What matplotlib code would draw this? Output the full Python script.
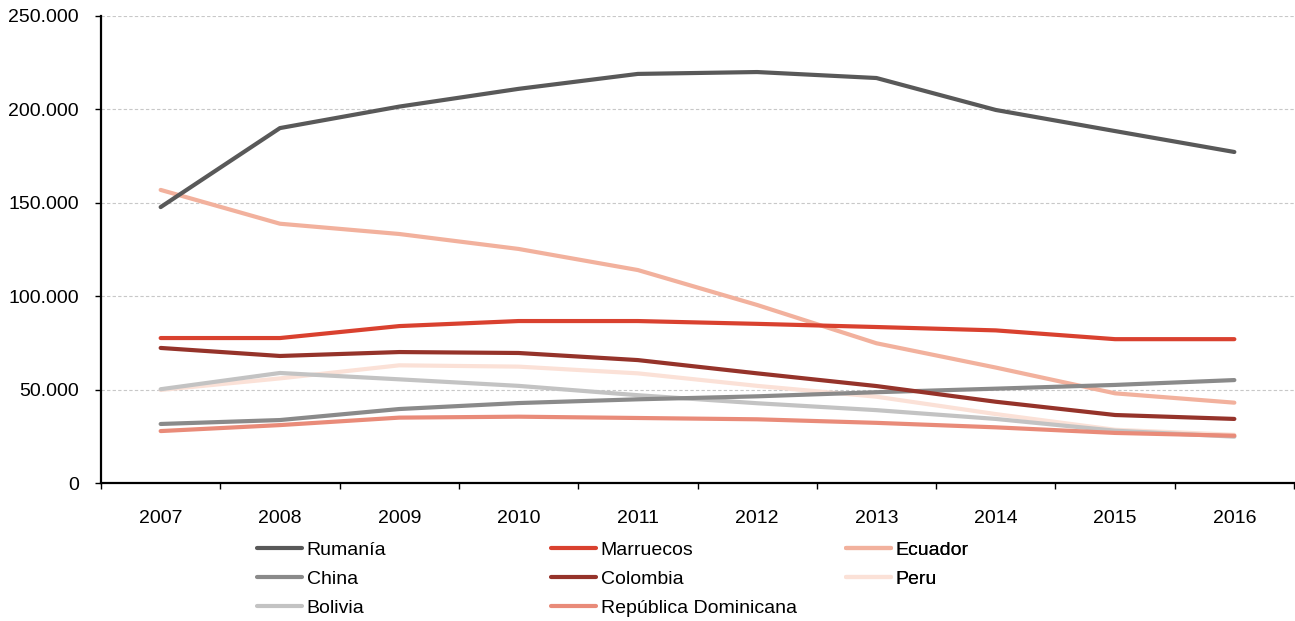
import matplotlib.pyplot as plt
from matplotlib.ticker import FuncFormatter

plt.rcParams['font.family'] = ['Liberation Sans', 'DejaVu Sans']

years = ['2007', '2008', '2009', '2010', '2011', '2012', '2013', '2014', '2015', '2016']

rumania = [147700, 190000, 201500, 211000, 219000, 220000, 216800, 199700, 188400, 177200]
china = [31600, 33700, 39600, 42800, 44800, 46400, 48600, 50500, 52500, 55100]
bolivia = [50200, 58900, 55500, 52000, 47000, 42700, 39000, 34300, 28000, 24800]
marruecos = [77600, 77600, 84000, 86700, 86700, 85200, 83500, 81700, 77000, 77000]
colombia = [72300, 68000, 70100, 69600, 65800, 58700, 51900, 43500, 36400, 34300]
rep_dominicana = [27800, 31000, 35000, 35500, 34800, 34100, 32200, 29800, 26800, 25300]
ecuador = [156900, 138800, 133300, 125300, 114000, 95300, 74800, 61800, 48000, 43000]
peru = [49800, 56000, 63000, 62300, 58700, 52000, 46200, 36900, 28500, 25800]

series = [
    ('Rumanía', rumania, '#595959'),
    ('China', china, '#8a8a8a'),
    ('Bolivia', bolivia, '#c3c3c3'),
    ('Marruecos', marruecos, '#d9412f'),
    ('Colombia', colombia, '#95332a'),
    ('República Dominicana', rep_dominicana, '#e98b79'),
    ('Ecuador', ecuador, '#f2b19d'),
    ('Peru', peru, '#fbe1d7'),
]

fig = plt.figure(figsize=(12.95, 6.21), dpi=100)
ax = fig.add_axes([101 / 1295, 1 - 483 / 621, 1193 / 1295, (483 - 16) / 621])

x = list(range(len(years)))
# draw order: light ones first so the dark lines sit on top
draw_order = [7, 2, 5, 6, 1, 4, 3, 0]
handles = {}
for i in draw_order:
    name, vals, col = series[i]
    ln, = ax.plot(x, vals, color=col, lw=3.0, label=name, solid_capstyle='round')
    handles[i] = ln

ax.set_xlim(-0.5, 9.5)
ax.set_ylim(0, 250000)
ax.set_yticks([0, 50000, 100000, 150000, 200000, 250000])
ax.yaxis.set_major_formatter(FuncFormatter(lambda v, p: f'{int(v):,}'.replace(',', '.')))
ax.set_xticks(x)
ax.set_xticklabels(years)
ax.set_xticks([i - 0.5 for i in range(len(years) + 1)], minor=True)
ax.tick_params(axis='x', which='major', length=0, pad=19.5, labelsize=14)
ax.tick_params(axis='x', which='minor', length=4, width=1, direction='out')
ax.tick_params(axis='y', length=4, width=1, direction='out', pad=12, labelsize=14)

ax.grid(axis='y', color='#c8c8c8', linestyle=(0, (3, 2)), linewidth=0.8)
ax.set_axisbelow(True)
for s in ['top', 'right']:
    ax.spines[s].set_visible(False)
for s in ['left', 'bottom']:
    ax.spines[s].set_linewidth(1.6)

groups = [[0, 1, 2], [3, 4, 5], [6, 7]]
xs = [257, 551, 846]
for g, gx in zip(groups, xs):
    leg = ax.legend([handles[i] for i in g], [series[i][0] for i in g],
                    loc='upper left', bbox_to_anchor=(gx / 1295, 1 - 541.5 / 621),
                    bbox_transform=fig.transFigure, frameon=False, fontsize=14,
                    handlelength=2.3, handletextpad=0.25, labelspacing=0.58,
                    borderpad=0, borderaxespad=0)
    ax.add_artist(leg)

fig.savefig('out.png', dpi=100)
